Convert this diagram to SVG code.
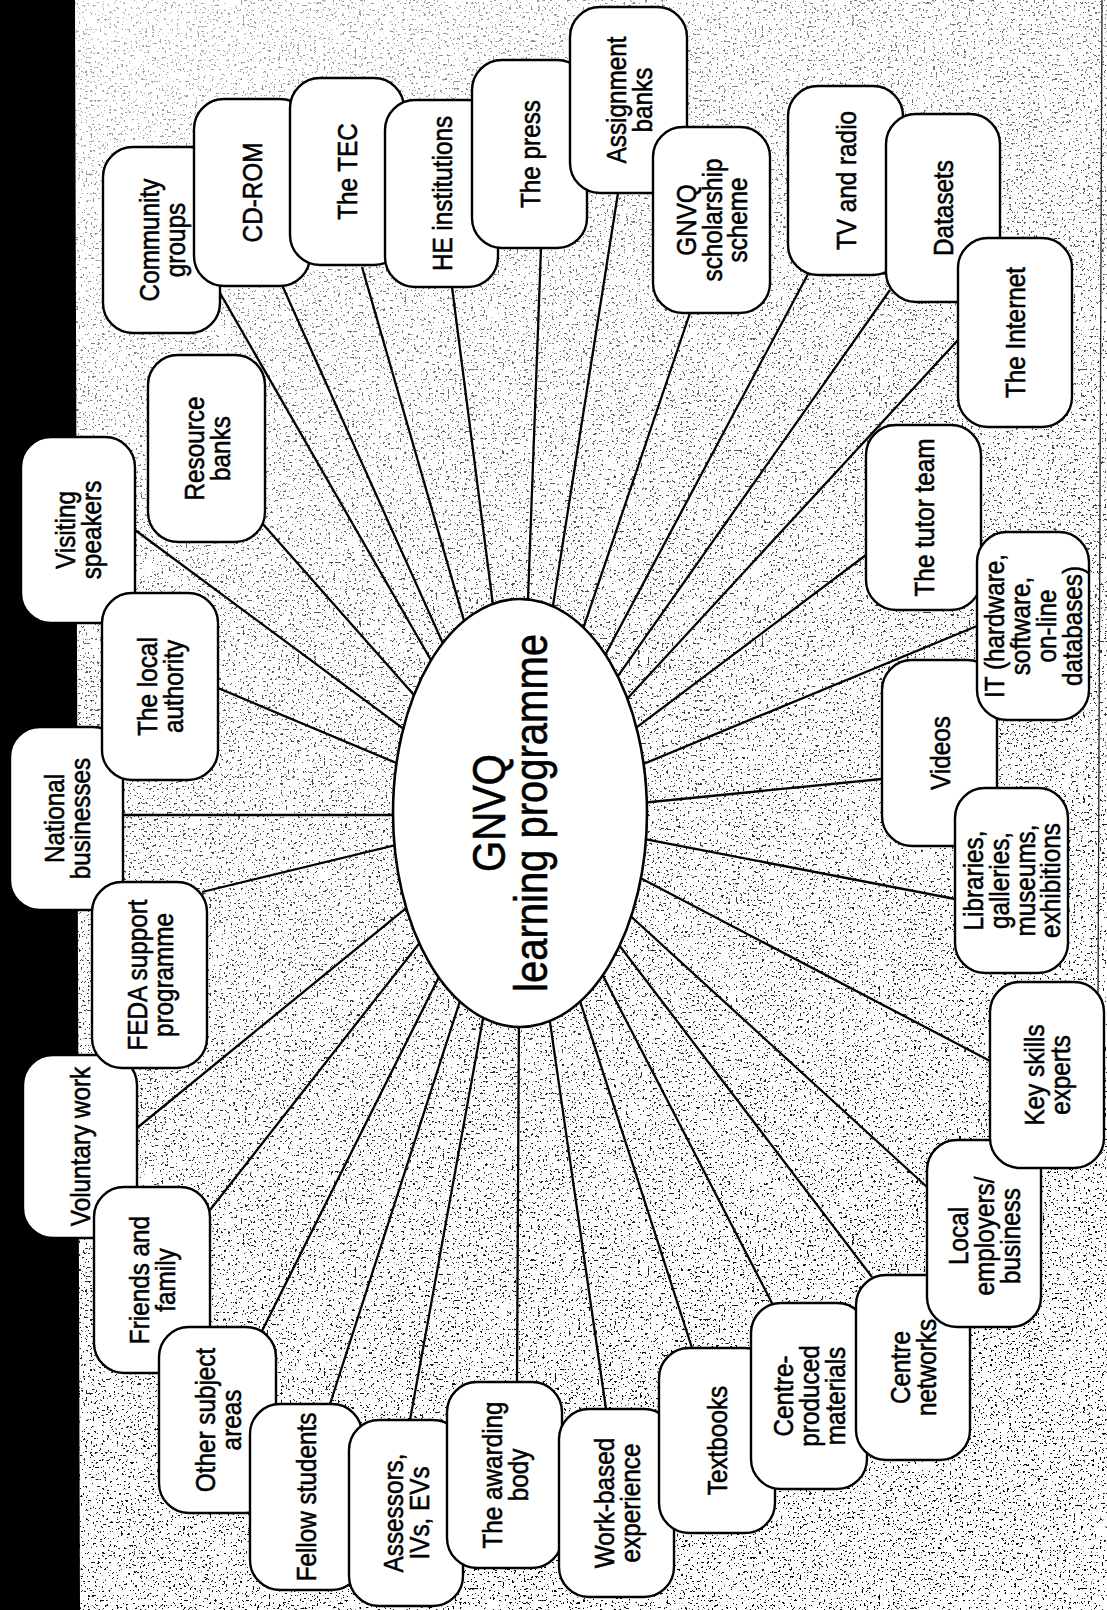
<svg xmlns="http://www.w3.org/2000/svg" width="1107" height="1610" viewBox="0 0 1107 1610">
<style>
.nd rect{fill:#fff;stroke:#000;stroke-width:2.4}
.t{font-family:"Liberation Sans",Arial,Helvetica,sans-serif;font-size:24.3px;text-anchor:middle;fill:#000;stroke:#000;stroke-width:0.5}
.tc{font-family:"Liberation Sans",Arial,Helvetica,sans-serif;font-size:40px;text-anchor:middle;fill:#000;stroke:#000;stroke-width:0.55}
#connectors line{stroke:#000;stroke-width:2.3}
</style>
<defs>
<filter id="spk" x="0" y="0" width="1" height="1" color-interpolation-filters="sRGB">
<feTurbulence type="fractalNoise" baseFrequency="0.42" numOctaves="2" seed="11" result="n"/>
<feColorMatrix in="n" type="matrix" values="0 0 0 0 0  0 0 0 0 0  0 0 0 0 0  -30 0 0 0 10.4"/>
</filter>
<linearGradient id="fade" x1="0" y1="0" x2="0.35" y2="1">
<stop offset="0" stop-color="#fff" stop-opacity="0.3"/>
<stop offset="0.45" stop-color="#fff" stop-opacity="0.7"/>
<stop offset="1" stop-color="#fff" stop-opacity="1"/>
</linearGradient>
<mask id="m"><rect x="0" y="0" width="1107" height="1610" fill="url(#fade)"/></mask>
</defs>
<rect x="0" y="0" width="1107" height="1610" fill="#fff"/>
<rect x="74" y="0" width="1033" height="1610" fill="#000" filter="url(#spk)" mask="url(#m)"/>
<polygon points="0,0 75,0 80,1610 0,1610" fill="#000"/>
<line x1="1102" y1="0" x2="1098" y2="1000" stroke="#222" stroke-width="1.3"/>

<g id="connectors">
<line x1="520" y1="815" x2="220" y2="293"/>
<line x1="520" y1="815" x2="282" y2="285"/>
<line x1="520" y1="815" x2="362" y2="267"/>
<line x1="520" y1="815" x2="452" y2="287"/>
<line x1="520" y1="815" x2="541" y2="248"/>
<line x1="520" y1="815" x2="618" y2="193"/>
<line x1="520" y1="815" x2="690" y2="313"/>
<line x1="520" y1="815" x2="808" y2="274"/>
<line x1="520" y1="815" x2="890" y2="290"/>
<line x1="520" y1="815" x2="958" y2="340"/>
<line x1="520" y1="815" x2="866" y2="555"/>
<line x1="520" y1="815" x2="977" y2="626"/>
<line x1="520" y1="815" x2="882" y2="779"/>
<line x1="520" y1="815" x2="955" y2="899"/>
<line x1="520" y1="815" x2="992" y2="1062"/>
<line x1="520" y1="815" x2="927" y2="1187"/>
<line x1="520" y1="815" x2="872" y2="1277"/>
<line x1="520" y1="815" x2="773" y2="1305"/>
<line x1="520" y1="815" x2="692" y2="1348"/>
<line x1="520" y1="815" x2="606" y2="1409"/>
<line x1="520" y1="815" x2="517" y2="1382"/>
<line x1="520" y1="815" x2="410" y2="1420"/>
<line x1="520" y1="815" x2="330" y2="1404"/>
<line x1="520" y1="815" x2="262" y2="1331"/>
<line x1="520" y1="815" x2="210" y2="1210"/>
<line x1="520" y1="815" x2="137" y2="1128"/>
<line x1="520" y1="815" x2="202" y2="892"/>
<line x1="520" y1="815" x2="123" y2="815"/>
<line x1="520" y1="815" x2="218" y2="688"/>
<line x1="520" y1="815" x2="135" y2="530"/>
<line x1="520" y1="815" x2="262" y2="523"/>
</g>

<g id="centre">
<ellipse cx="520" cy="813" rx="127" ry="214" fill="#fff" stroke="#000" stroke-width="2.6"/>
<text class="tc" transform="translate(520,813) rotate(-90) scale(1,1.15)"><tspan x="0" y="-13">GNVQ</tspan><tspan x="0" y="23.5">learning programme</tspan></text>
</g>

<g id="community-groups" class="nd"><rect x="103" y="147" width="117" height="186" rx="30"/><text class="t" transform="translate(161.5,240) rotate(-90) scale(1,1.15)"><tspan x="0" y="-2.6">Community</tspan><tspan x="0" y="20">groups</tspan></text></g>
<g id="cd-rom" class="nd"><rect x="194" y="99" width="116" height="187" rx="30"/><text class="t" transform="translate(252,192.5) rotate(-90) scale(1,1.15)"><tspan x="0" y="8.7">CD-ROM</tspan></text></g>
<g id="the-tec" class="nd"><rect x="290" y="78" width="114" height="187" rx="30"/><text class="t" transform="translate(347,171.5) rotate(-90) scale(1,1.15)"><tspan x="0" y="8.7">The TEC</tspan></text></g>
<g id="he-institutions" class="nd"><rect x="385" y="100" width="113" height="187" rx="30"/><text class="t" transform="translate(441.5,193.5) rotate(-90) scale(1,1.15)"><tspan x="0" y="8.7">HE institutions</tspan></text></g>
<g id="the-press" class="nd"><rect x="472" y="60" width="115" height="188" rx="30"/><text class="t" transform="translate(529.5,154) rotate(-90) scale(1,1.15)"><tspan x="0" y="8.7">The press</tspan></text></g>
<g id="assignment-banks" class="nd"><rect x="570" y="7" width="117" height="186" rx="30"/><text class="t" transform="translate(628.5,100) rotate(-90) scale(1,1.15)"><tspan x="0" y="-2.6">Assignment</tspan><tspan x="0" y="20">banks</tspan></text></g>
<g id="gnvq-scholarship" class="nd"><rect x="653" y="127" width="117" height="186" rx="30"/><text class="t" transform="translate(711.5,220) rotate(-90) scale(1,1.15)"><tspan x="0" y="-13.9">GNVQ</tspan><tspan x="0" y="8.7">scholarship</tspan><tspan x="0" y="31.3">scheme</tspan></text></g>
<g id="tv-radio" class="nd"><rect x="788" y="86" width="115" height="189" rx="30"/><text class="t" transform="translate(845.5,180.5) rotate(-90) scale(1,1.15)"><tspan x="0" y="8.7">TV and radio</tspan></text></g>
<g id="datasets" class="nd"><rect x="886" y="114" width="114" height="188" rx="30"/><text class="t" transform="translate(943,208) rotate(-90) scale(1,1.15)"><tspan x="0" y="8.7">Datasets</tspan></text></g>
<g id="internet" class="nd"><rect x="958" y="238" width="114" height="189" rx="30"/><text class="t" transform="translate(1015,332.5) rotate(-90) scale(1,1.15)"><tspan x="0" y="8.7">The Internet</tspan></text></g>
<g id="tutor-team" class="nd"><rect x="866" y="425" width="115" height="185" rx="30"/><text class="t" transform="translate(923.5,517.5) rotate(-90) scale(1,1.15)"><tspan x="0" y="8.7">The tutor team</tspan></text></g>
<g id="videos" class="nd"><rect x="882" y="660" width="115" height="186" rx="30"/><text class="t" transform="translate(939.5,753) rotate(-90) scale(1,1.15)"><tspan x="0" y="8.7">Videos</tspan></text></g>
<g id="it" class="nd"><rect x="977" y="532" width="112" height="188" rx="30"/><text class="t" transform="translate(1033,626) rotate(-90) scale(1,1.15)"><tspan x="0" y="-25.2">IT (hardware,</tspan><tspan x="0" y="-2.6">software,</tspan><tspan x="0" y="20">on-line</tspan><tspan x="0" y="42.6">databases)</tspan></text></g>
<g id="libraries" class="nd"><rect x="955" y="788" width="113" height="185" rx="30"/><text class="t" transform="translate(1011.5,880.5) rotate(-90) scale(1,1.15)"><tspan x="0" y="-25.2">Libraries,</tspan><tspan x="0" y="-2.6">galleries,</tspan><tspan x="0" y="20">museums,</tspan><tspan x="0" y="42.6">exhibitions</tspan></text></g>
<g id="resource-banks" class="nd"><rect x="148" y="355" width="117" height="187" rx="30"/><text class="t" transform="translate(206.5,448.5) rotate(-90) scale(1,1.15)"><tspan x="0" y="-2.6">Resource</tspan><tspan x="0" y="20">banks</tspan></text></g>
<g id="visiting-speakers" class="nd"><rect x="21" y="437" width="114" height="186" rx="30"/><text class="t" transform="translate(78,530) rotate(-90) scale(1,1.15)"><tspan x="0" y="-2.6">Visiting</tspan><tspan x="0" y="20">speakers</tspan></text></g>
<g id="national-businesses" class="nd"><rect x="10" y="727" width="113" height="183" rx="30"/><text class="t" transform="translate(66.5,818.5) rotate(-90) scale(1,1.15)"><tspan x="0" y="-2.6">National</tspan><tspan x="0" y="20">businesses</tspan></text></g>
<g id="local-authority" class="nd"><rect x="102" y="593" width="116" height="187" rx="30"/><text class="t" transform="translate(160,686.5) rotate(-90) scale(1,1.15)"><tspan x="0" y="-2.6">The local</tspan><tspan x="0" y="20">authority</tspan></text></g>
<g id="voluntary-work" class="nd"><rect x="23" y="1055" width="114" height="183" rx="30"/><text class="t" transform="translate(80,1146.5) rotate(-90) scale(1,1.15)"><tspan x="0" y="8.7">Voluntary work</tspan></text></g>
<g id="feda" class="nd"><rect x="92" y="882" width="115" height="186" rx="30"/><text class="t" transform="translate(149.5,975) rotate(-90) scale(1,1.15)"><tspan x="0" y="-2.6">FEDA support</tspan><tspan x="0" y="20">programme</tspan></text></g>
<g id="friends-family" class="nd"><rect x="94" y="1187" width="116" height="186" rx="30"/><text class="t" transform="translate(152,1280) rotate(-90) scale(1,1.15)"><tspan x="0" y="-2.6">Friends and</tspan><tspan x="0" y="20">family</tspan></text></g>
<g id="other-subject" class="nd"><rect x="159" y="1327" width="117" height="186" rx="30"/><text class="t" transform="translate(217.5,1420) rotate(-90) scale(1,1.15)"><tspan x="0" y="-2.6">Other subject</tspan><tspan x="0" y="20">areas</tspan></text></g>
<g id="fellow-students" class="nd"><rect x="250" y="1404" width="112" height="186" rx="30"/><text class="t" transform="translate(306,1497) rotate(-90) scale(1,1.15)"><tspan x="0" y="8.7">Fellow students</tspan></text></g>
<g id="assessors" class="nd"><rect x="349" y="1420" width="114" height="186" rx="30"/><text class="t" transform="translate(406,1513) rotate(-90) scale(1,1.15)"><tspan x="0" y="-2.6">Assessors,</tspan><tspan x="0" y="20">IVs, EVs</tspan></text></g>
<g id="awarding-body" class="nd"><rect x="447" y="1382" width="115" height="186" rx="30"/><text class="t" transform="translate(504.5,1475) rotate(-90) scale(1,1.15)"><tspan x="0" y="-2.6">The awarding</tspan><tspan x="0" y="20">body</tspan></text></g>
<g id="work-based" class="nd"><rect x="559" y="1409" width="115" height="188" rx="30"/><text class="t" transform="translate(616.5,1503) rotate(-90) scale(1,1.15)"><tspan x="0" y="-2.6">Work-based</tspan><tspan x="0" y="20">experience</tspan></text></g>
<g id="textbooks" class="nd"><rect x="659" y="1348" width="116" height="185" rx="30"/><text class="t" transform="translate(717,1440.5) rotate(-90) scale(1,1.15)"><tspan x="0" y="8.7">Textbooks</tspan></text></g>
<g id="centre-produced" class="nd"><rect x="751" y="1303" width="116" height="186" rx="30"/><text class="t" transform="translate(809,1396) rotate(-90) scale(1,1.15)"><tspan x="0" y="-13.9">Centre-</tspan><tspan x="0" y="8.7">produced</tspan><tspan x="0" y="31.3">materials</tspan></text></g>
<g id="centre-networks" class="nd"><rect x="856" y="1275" width="114" height="185" rx="30"/><text class="t" transform="translate(913,1367.5) rotate(-90) scale(1,1.15)"><tspan x="0" y="-2.6">Centre</tspan><tspan x="0" y="20">networks</tspan></text></g>
<g id="local-employers" class="nd"><rect x="927" y="1140" width="114" height="187" rx="30"/><text class="t" transform="translate(984,1236) rotate(-90) scale(1,1.15)"><tspan x="0" y="-13.9">Local</tspan><tspan x="0" y="8.7">employers/</tspan><tspan x="0" y="31.3">business</tspan></text></g>
<g id="key-skills" class="nd"><rect x="990" y="982" width="114" height="186" rx="30"/><text class="t" transform="translate(1047,1075) rotate(-90) scale(1,1.15)"><tspan x="0" y="-2.6">Key skills</tspan><tspan x="0" y="20">experts</tspan></text></g>
</svg>
